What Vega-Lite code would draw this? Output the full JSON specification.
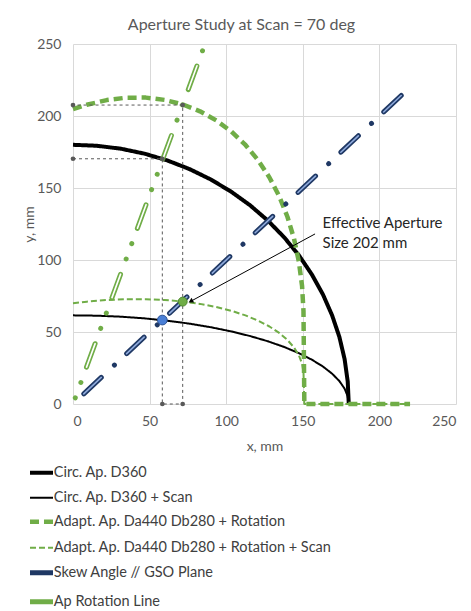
{
  "$schema": "https://vega.github.io/schema/vega-lite/v6.json",
  "width": 383,
  "height": 360,
  "autosize": {"type": "none"},
  "padding": {"left": 73, "top": 44, "right": 15, "bottom": 207},
  "background": "white",
  "title": {"text": "Aperture Study at Scan = 70 deg", "font": "Lato", "fontSize": 16, "fontWeight": "normal", "color": "#595959", "anchor": "middle", "dx": -23, "offset": 4},
  "config": {
    "view": {"stroke": null},
    "axis": {"grid": true, "gridColor": "#d9d9d9", "gridWidth": 1, "domain": false, "ticks": false, "labelColor": "#595959", "labelFont": "Lato", "labelFontSize": 14, "titleColor": "#595959", "titleFont": "Lato", "titleFontSize": 14, "titleFontWeight": "normal"},
    "legend": {"orient": "none", "legendX": -38.75, "legendY": 421.5, "labelFont": "Lato", "labelFontSize": 14.5, "labelColor": "#404040", "symbolSize": 14.7, "symbolType": "M-6,0H6", "rowPadding": 8, "labelOffset": 5, "padding": 0, "labelLimit": 400}
  },
  "datasets": {
    "curves": [
      {"s": "Circ. Ap. D360", "i": 0, "x": 0, "y": 180},
      {"s": "Circ. Ap. D360", "i": 1, "x": 15.69, "y": 179.32},
      {"s": "Circ. Ap. D360", "i": 2, "x": 31.26, "y": 177.27},
      {"s": "Circ. Ap. D360", "i": 3, "x": 46.59, "y": 173.87},
      {"s": "Circ. Ap. D360", "i": 4, "x": 61.56, "y": 169.14},
      {"s": "Circ. Ap. D360", "i": 5, "x": 76.07, "y": 163.14},
      {"s": "Circ. Ap. D360", "i": 6, "x": 90, "y": 155.88},
      {"s": "Circ. Ap. D360", "i": 7, "x": 103.24, "y": 147.45},
      {"s": "Circ. Ap. D360", "i": 8, "x": 115.7, "y": 137.89},
      {"s": "Circ. Ap. D360", "i": 9, "x": 127.28, "y": 127.28},
      {"s": "Circ. Ap. D360", "i": 10, "x": 137.89, "y": 115.7},
      {"s": "Circ. Ap. D360", "i": 11, "x": 147.45, "y": 103.24},
      {"s": "Circ. Ap. D360", "i": 12, "x": 155.88, "y": 90},
      {"s": "Circ. Ap. D360", "i": 13, "x": 163.14, "y": 76.07},
      {"s": "Circ. Ap. D360", "i": 14, "x": 169.14, "y": 61.56},
      {"s": "Circ. Ap. D360", "i": 15, "x": 173.87, "y": 46.59},
      {"s": "Circ. Ap. D360", "i": 16, "x": 177.27, "y": 31.26},
      {"s": "Circ. Ap. D360", "i": 17, "x": 179.32, "y": 15.69},
      {"s": "Circ. Ap. D360", "i": 18, "x": 180, "y": 0},
      {"s": "Circ. Ap. D360 + Scan", "i": 0, "x": 0, "y": 61.56},
      {"s": "Circ. Ap. D360 + Scan", "i": 1, "x": 15.69, "y": 61.33},
      {"s": "Circ. Ap. D360 + Scan", "i": 2, "x": 31.26, "y": 60.63},
      {"s": "Circ. Ap. D360 + Scan", "i": 3, "x": 46.59, "y": 59.47},
      {"s": "Circ. Ap. D360 + Scan", "i": 4, "x": 61.56, "y": 57.85},
      {"s": "Circ. Ap. D360 + Scan", "i": 5, "x": 76.07, "y": 55.8},
      {"s": "Circ. Ap. D360 + Scan", "i": 6, "x": 90, "y": 53.31},
      {"s": "Circ. Ap. D360 + Scan", "i": 7, "x": 103.24, "y": 50.43},
      {"s": "Circ. Ap. D360 + Scan", "i": 8, "x": 115.7, "y": 47.16},
      {"s": "Circ. Ap. D360 + Scan", "i": 9, "x": 127.28, "y": 43.53},
      {"s": "Circ. Ap. D360 + Scan", "i": 10, "x": 137.89, "y": 39.57},
      {"s": "Circ. Ap. D360 + Scan", "i": 11, "x": 147.45, "y": 35.31},
      {"s": "Circ. Ap. D360 + Scan", "i": 12, "x": 155.88, "y": 30.78},
      {"s": "Circ. Ap. D360 + Scan", "i": 13, "x": 163.14, "y": 26.02},
      {"s": "Circ. Ap. D360 + Scan", "i": 14, "x": 169.14, "y": 21.05},
      {"s": "Circ. Ap. D360 + Scan", "i": 15, "x": 173.87, "y": 15.93},
      {"s": "Circ. Ap. D360 + Scan", "i": 16, "x": 177.27, "y": 10.69},
      {"s": "Circ. Ap. D360 + Scan", "i": 17, "x": 179.32, "y": 5.37},
      {"s": "Circ. Ap. D360 + Scan", "i": 18, "x": 180, "y": 0},
      {"s": "Adapt. Ap. Da440 Db280 + Rotation", "i": 0, "x": 0, "y": 204.7},
      {"s": "Adapt. Ap. Da440 Db280 + Rotation", "i": 1, "x": 8.97, "y": 207.79},
      {"s": "Adapt. Ap. Da440 Db280 + Rotation", "i": 2, "x": 22.03, "y": 211.06},
      {"s": "Adapt. Ap. Da440 Db280 + Rotation", "i": 3, "x": 34.92, "y": 212.73},
      {"s": "Adapt. Ap. Da440 Db280 + Rotation", "i": 4, "x": 47.55, "y": 212.77},
      {"s": "Adapt. Ap. Da440 Db280 + Rotation", "i": 5, "x": 59.81, "y": 211.19},
      {"s": "Adapt. Ap. Da440 Db280 + Rotation", "i": 6, "x": 71.63, "y": 208.01},
      {"s": "Adapt. Ap. Da440 Db280 + Rotation", "i": 7, "x": 82.89, "y": 203.25},
      {"s": "Adapt. Ap. Da440 Db280 + Rotation", "i": 8, "x": 93.52, "y": 196.93},
      {"s": "Adapt. Ap. Da440 Db280 + Rotation", "i": 9, "x": 103.45, "y": 189.13},
      {"s": "Adapt. Ap. Da440 Db280 + Rotation", "i": 10, "x": 112.58, "y": 179.88},
      {"s": "Adapt. Ap. Da440 Db280 + Rotation", "i": 11, "x": 120.86, "y": 169.27},
      {"s": "Adapt. Ap. Da440 Db280 + Rotation", "i": 12, "x": 128.22, "y": 157.35},
      {"s": "Adapt. Ap. Da440 Db280 + Rotation", "i": 13, "x": 134.6, "y": 144.25},
      {"s": "Adapt. Ap. Da440 Db280 + Rotation", "i": 14, "x": 139.96, "y": 130.05},
      {"s": "Adapt. Ap. Da440 Db280 + Rotation", "i": 15, "x": 144.25, "y": 114.86},
      {"s": "Adapt. Ap. Da440 Db280 + Rotation", "i": 16, "x": 147.44, "y": 98.79},
      {"s": "Adapt. Ap. Da440 Db280 + Rotation", "i": 17, "x": 149.52, "y": 81.97},
      {"s": "Adapt. Ap. Da440 Db280 + Rotation", "i": 18, "x": 150.45, "y": 64.54},
      {"s": "Adapt. Ap. Da440 Db280 + Rotation", "i": 19, "x": 150.5, "y": 58.8},
      {"s": "Adapt. Ap. Da440 Db280 + Rotation", "i": 20, "x": 151, "y": 0},
      {"s": "Adapt. Ap. Da440 Db280 + Rotation", "i": 21, "x": 220, "y": 0},
      {"s": "Adapt. Ap. Da440 Db280 + Rotation + Scan", "i": 0, "x": 0, "y": 70},
      {"s": "Adapt. Ap. Da440 Db280 + Rotation + Scan", "i": 1, "x": 8.97, "y": 71.07},
      {"s": "Adapt. Ap. Da440 Db280 + Rotation + Scan", "i": 2, "x": 22.03, "y": 72.19},
      {"s": "Adapt. Ap. Da440 Db280 + Rotation + Scan", "i": 3, "x": 34.92, "y": 72.76},
      {"s": "Adapt. Ap. Da440 Db280 + Rotation + Scan", "i": 4, "x": 47.55, "y": 72.77},
      {"s": "Adapt. Ap. Da440 Db280 + Rotation + Scan", "i": 5, "x": 59.81, "y": 72.23},
      {"s": "Adapt. Ap. Da440 Db280 + Rotation + Scan", "i": 6, "x": 71.63, "y": 71.14},
      {"s": "Adapt. Ap. Da440 Db280 + Rotation + Scan", "i": 7, "x": 82.89, "y": 69.52},
      {"s": "Adapt. Ap. Da440 Db280 + Rotation + Scan", "i": 8, "x": 93.52, "y": 67.35},
      {"s": "Adapt. Ap. Da440 Db280 + Rotation + Scan", "i": 9, "x": 103.45, "y": 64.69},
      {"s": "Adapt. Ap. Da440 Db280 + Rotation + Scan", "i": 10, "x": 112.58, "y": 61.52},
      {"s": "Adapt. Ap. Da440 Db280 + Rotation + Scan", "i": 11, "x": 120.86, "y": 57.89},
      {"s": "Adapt. Ap. Da440 Db280 + Rotation + Scan", "i": 12, "x": 128.22, "y": 53.82},
      {"s": "Adapt. Ap. Da440 Db280 + Rotation + Scan", "i": 13, "x": 134.6, "y": 49.34},
      {"s": "Adapt. Ap. Da440 Db280 + Rotation + Scan", "i": 14, "x": 139.96, "y": 44.48},
      {"s": "Adapt. Ap. Da440 Db280 + Rotation + Scan", "i": 15, "x": 144.25, "y": 39.28},
      {"s": "Adapt. Ap. Da440 Db280 + Rotation + Scan", "i": 16, "x": 147.44, "y": 33.79},
      {"s": "Adapt. Ap. Da440 Db280 + Rotation + Scan", "i": 17, "x": 149.52, "y": 28.04},
      {"s": "Adapt. Ap. Da440 Db280 + Rotation + Scan", "i": 18, "x": 150.45, "y": 22.07},
      {"s": "Adapt. Ap. Da440 Db280 + Rotation + Scan", "i": 19, "x": 150.5, "y": 20.1},
      {"s": "Adapt. Ap. Da440 Db280 + Rotation + Scan", "i": 20, "x": 151, "y": 0},
      {"s": "Adapt. Ap. Da440 Db280 + Rotation + Scan", "i": 21, "x": 220, "y": 0},
      {"s": "Skew Angle // GSO Plane", "i": 0, "x": 0, "y": 0},
      {"s": "Skew Angle // GSO Plane", "i": 1, "x": 215.5, "y": 215.5},
      {"s": "Ap Rotation Line", "i": 0, "x": 0, "y": 0},
      {"s": "Ap Rotation Line", "i": 1, "x": 85, "y": 246.7}
    ],
    "guide": [
      {"i": 0, "x": 0, "y": 170.3},
      {"i": 1, "x": 58.3, "y": 170.3},
      {"i": 2, "x": 58.3, "y": 0},
      {"i": 3, "x": 71.6, "y": 0},
      {"i": 4, "x": 71.6, "y": 207.6},
      {"i": 5, "x": 0, "y": 207.6}
    ],
    "bluept": [{"x": 58.3, "y": 58.3}],
    "greenpt": [{"x": 71.6, "y": 71.1}],
    "arrow": [{"x": 158, "y": 118.1, "x2": 77, "y2": 71.4}],
    "head": [{"x": 77.3, "y": 71.6}],
    "notes": [
      {"t": "Effective Aperture", "x": 162.9, "y": 125.9},
      {"t": "Size 202 mm", "x": 162.9, "y": 112.0}
    ]
  },
  "resolve": {
    "scale": {"color": "independent", "strokeWidth": "independent", "strokeDash": "independent"},
    "legend": {"color": "independent", "strokeWidth": "independent", "strokeDash": "independent"}
  },
  "encoding": {
    "x": {"field": "x", "type": "quantitative", "scale": {"domain": [0, 250], "nice": false}, "axis": {"values": [0, 50, 100, 150, 200, 250], "title": "x, mm", "labelPadding": 10, "titlePadding": 11}},
    "y": {"field": "y", "type": "quantitative", "scale": {"domain": [0, 250], "nice": false}, "axis": {"values": [0, 50, 100, 150, 200, 250], "title": "y, mm", "labelPadding": 12, "titlePadding": 0}}
  },
  "layer": [
    {
      "data": {"name": "curves"},
      "encoding": {
        "order": {"field": "i", "type": "quantitative"},
        "color": {"field": "s", "type": "nominal", "legend": {"title": null}, "scale": {"domain": ["Circ. Ap. D360", "Circ. Ap. D360 + Scan", "Adapt. Ap. Da440 Db280 + Rotation", "Adapt. Ap. Da440 Db280 + Rotation + Scan", "Skew Angle // GSO Plane", "Ap Rotation Line"], "range": ["#000000", "#000000", "#70ad47", "#70ad47", "#1f3864", "#70ad47"]}},
        "strokeWidth": {"field": "s", "type": "nominal", "legend": {"title": null}, "scale": {"type": "ordinal", "domain": ["Circ. Ap. D360", "Circ. Ap. D360 + Scan", "Adapt. Ap. Da440 Db280 + Rotation", "Adapt. Ap. Da440 Db280 + Rotation + Scan", "Skew Angle // GSO Plane", "Ap Rotation Line"], "range": [4, 2, 4.5, 2, 5, 5]}},
        "strokeDash": {"field": "s", "type": "nominal", "legend": {"title": null}, "scale": {"type": "ordinal", "domain": ["Circ. Ap. D360", "Circ. Ap. D360 + Scan", "Adapt. Ap. Da440 Db280 + Rotation", "Adapt. Ap. Da440 Db280 + Rotation + Scan", "Skew Angle // GSO Plane", "Ap Rotation Line"], "range": [[1, 0], [1, 0], [9, 5], [6, 3], [24, 18, 0.01, 16.8], [25, 16.3, 0.01, 16.3, 0.01, 16.3]]}}
      },
      "layer": [
        {"transform": [{"filter": "datum.s !== 'Skew Angle // GSO Plane' && datum.s !== 'Ap Rotation Line'"}], "mark": {"type": "line", "strokeCap": "butt", "strokeJoin": "round"}},
        {"transform": [{"filter": "datum.s === 'Skew Angle // GSO Plane'"}], "mark": {"type": "line", "strokeCap": "round", "strokeDashOffset": 44}},
        {"transform": [{"filter": "datum.s === 'Ap Rotation Line'"}], "mark": {"type": "line", "strokeCap": "round", "strokeDashOffset": 34.7}}
      ]
    },
    {
      "data": {"name": "curves"},
      "encoding": {
        "order": {"field": "i", "type": "quantitative"},
        "color": {"field": "s", "type": "nominal", "legend": null, "scale": {"domain": ["Circ. Ap. D360", "Circ. Ap. D360 + Scan", "Adapt. Ap. Da440 Db280 + Rotation", "Adapt. Ap. Da440 Db280 + Rotation + Scan", "Skew Angle // GSO Plane", "Ap Rotation Line"], "range": ["transparent", "transparent", "transparent", "transparent", "#8faadc", "#ffffff"]}}
      },
      "layer": [
        {"transform": [{"filter": "datum.s === 'Skew Angle // GSO Plane'"}], "mark": {"type": "line", "strokeCap": "round", "strokeWidth": 1.6, "strokeDash": [24, 34.8], "strokeDashOffset": 44}},
        {"transform": [{"filter": "datum.s === 'Ap Rotation Line'"}], "mark": {"type": "line", "strokeCap": "round", "strokeWidth": 1.6, "strokeDash": [25, 49], "strokeDashOffset": 34.7}}
      ]
    },
    {
      "data": {"name": "guide"},
      "mark": {"type": "line", "color": "#595959", "strokeWidth": 1, "strokeDash": [3, 3], "point": {"filled": true, "color": "#595959", "size": 22}},
      "encoding": {"order": {"field": "i", "type": "quantitative"}}
    },
    {
      "data": {"name": "bluept"},
      "mark": {"type": "point", "shape": "circle", "filled": true, "fill": "#4a7fd6", "stroke": "#2f5597", "strokeWidth": 1, "size": 95, "opacity": 1}
    },
    {
      "data": {"name": "greenpt"},
      "mark": {"type": "point", "shape": "circle", "filled": true, "fill": "#70ad47", "stroke": "#4e8a2e", "strokeWidth": 1, "size": 80, "opacity": 1}
    },
    {
      "data": {"name": "arrow"},
      "mark": {"type": "rule", "color": "#000000", "strokeWidth": 1},
      "encoding": {"x2": {"field": "x2"}, "y2": {"field": "y2"}}
    },
    {
      "data": {"name": "head"},
      "mark": {"type": "point", "shape": "triangle", "filled": true, "color": "#000000", "size": 30, "angle": 242, "opacity": 1}
    },
    {
      "data": {"name": "notes"},
      "mark": {"type": "text", "align": "left", "baseline": "middle", "font": "Lato", "fontSize": 15, "color": "#262626"},
      "encoding": {"text": {"field": "t"}}
    }
  ]
}
